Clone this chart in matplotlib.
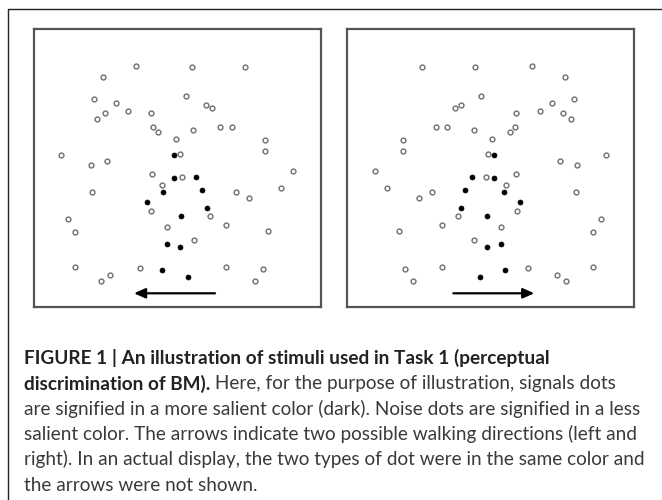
import matplotlib
matplotlib.use("Agg")
import matplotlib.pyplot as plt
from matplotlib import font_manager
from matplotlib.font_manager import FontProperties
from matplotlib.lines import Line2D

W, H = 662, 500

# ---------------- data (image pixel coordinates) ----------------
left_noise_x = [135.7, 192, 245, 103.3, 93.7, 115.7, 104.7, 97, 127.7, 151.3, 186.3, 206.3, 212.3,
                153, 158, 193, 220.3, 231.7, 175.7, 264.7, 264.7, 61.3, 179.7, 90.7, 107.3, 151.7,
                182.3, 293, 162, 92, 235.7, 249, 280.7, 151.3, 210, 67.7, 75, 167, 226, 268.3, 194,
                75, 139.7, 110.3, 101.3, 226, 263.3, 254.7]
left_noise_y = [65.7, 67, 67, 77.3, 99.3, 102.7, 112.7, 119.3, 111, 112.7, 96, 105, 107.7,
                127, 132.3, 130, 127, 126.7, 139.3, 140, 151.3, 155.3, 154, 165, 161.2, 174.3,
                177, 171.3, 185, 192, 192.3, 198, 187.7, 210.7, 216, 219.3, 232.3, 227.3, 225, 230.7, 239.7,
                266.7, 268.3, 274.7, 281.3, 266.7, 269, 281.3]
left_signal_x = [173.7, 173.7, 196, 163.3, 202.3, 147, 207, 181, 166.7, 180.3, 162.3, 188]
left_signal_y = [155, 178, 177, 192.3, 189.7, 202, 208, 215.7, 244, 246.7, 269.7, 277]

right_noise_x = [422.3, 475.3, 531.7, 564.7, 481.3, 455, 461.3, 552, 574.3, 516, 539.7, 563.3, 570.7,
                 435.7, 447, 474.3, 509.7, 514.7, 403, 403, 492, 488.3, 606, 560.3, 577, 374.7,
                 485.7, 516, 506, 387.3, 432, 418.7, 576, 457.7, 516.7, 600.7, 593, 399.3, 442, 500.7,
                 473.7, 404.7, 442, 528, 557.3, 566.3, 413, 593]
right_noise_y = [67, 67, 65.7, 77.3, 96, 107.7, 105, 102.7, 99.3, 112.7, 111, 112.7, 119.3,
                 126.7, 127, 130, 132.3, 127, 140, 151.3, 139.3, 154, 155.3, 161.2, 164.8, 171.3,
                 177, 174.3, 185, 187.7, 192.3, 198, 192, 216, 210.7, 219.3, 232.3, 230.7, 225, 227.3,
                 239.7, 269, 266.7, 268.3, 274.7, 281.3, 281.3, 266.7]
right_signal_x = [494, 472, 494, 465, 504.3, 520.3, 460.7, 487, 487, 501, 505.3, 479.7]
right_signal_y = [155, 177, 178, 189.7, 192.3, 202, 208, 215.7, 246.7, 244, 269.7, 277]

# arrows: (x_start, x_end, y)
left_arrow = (215, 134, 293.3)
right_arrow = (453.3, 534.3, 293.3)

caption_bold_1 = "FIGURE 1 | An illustration of stimuli used in Task 1 (perceptual"
caption_bold_2 = "discrimination of BM)."
caption_rest_2 = " Here, for the purpose of illustration, signals dots"
caption_lines = [
    "are signified in a more salient color (dark). Noise dots are signified in a less",
    "salient color. The arrows indicate two possible walking directions (left and",
    "right). In an actual display, the two types of dot were in the same color and",
    "the arrows were not shown.",
]

# ---------------- figure ----------------
fig = plt.figure(figsize=(W / 100, H / 100), dpi=100)
fig.patch.set_facecolor("white")

# outer frame (top and left edges visible)
fig.add_artist(Line2D([8 / W, 8 / W, 1.0], [0.0, 1 - 9.3 / H, 1 - 9.3 / H],
                      transform=fig.transFigure, color="#222222", lw=1.0))

panels = [
    (34, 321, left_noise_x, left_noise_y, left_signal_x, left_signal_y, left_arrow),
    (347, 633.5, right_noise_x, right_noise_y, right_signal_x, right_signal_y, right_arrow),
]
top, bottom = 29.5, 306.5
for x0, x1, nx, ny, sx, sy, arr in panels:
    ax = fig.add_axes([x0 / W, 1 - bottom / H, (x1 - x0) / W, (bottom - top) / H])
    ax.set_xlim(x0, x1)
    ax.set_ylim(bottom, top)
    ax.set_xticks([])
    ax.set_yticks([])
    for s in ax.spines.values():
        s.set_color("#555555")
        s.set_linewidth(1.6)
    ax.plot(nx, ny, linestyle="none", marker="o", markersize=3.5, mfc="white",
            mec="#6e6e6e", mew=1.0)
    ax.plot(sx, sy, linestyle="none", marker="o", markersize=3.6, mfc="black",
            mec="black", mew=0.5)
    ax.annotate("", xy=(arr[1], arr[2]), xytext=(arr[0], arr[2]),
                arrowprops=dict(arrowstyle="-|>,head_length=0.45,head_width=0.2",
                                color="black", lw=1.6, shrinkA=0, shrinkB=0,
                                mutation_scale=15))

# ---------------- caption font choice (prefer a narrow sans) ----------------
renderer = fig.canvas.get_renderer()
cands = []
for f in font_manager.fontManager.ttflist:
    st = f.stretch
    stv = font_manager.stretch_dict.get(st, 500) if isinstance(st, str) else st
    if f.style == "normal" and ("Mono" not in f.name) and (
            stv < 500 or "Narrow" in f.name or "Condensed" in f.name):
        if (f.name, st) not in cands:
            cands.append((f.name, st))
for nm in ["Roboto", "Lato", "Liberation Sans"]:
    cands.append((nm, "normal"))

target = 617.0 / 19.1  # line width in em units
best = None
for nm, st in cands:
    try:
        fp = FontProperties(family=nm, stretch=st, size=10)
        font_manager.findfont(fp, fallback_to_default=False)
        t = fig.text(0, 0, caption_lines[0], fontproperties=fp)
        w = t.get_window_extent(renderer).width
        t.remove()
    except Exception:
        continue
    wpe = w / (10 * 100 / 72)
    score = abs(wpe - target)
    if best is None or score < best[0]:
        best = (score, nm, st, w)

_, fam, stretch, wref = best
fsize = 10 * 617.0 / wref

def fprops(weight="normal"):
    return FontProperties(family=fam, stretch=stretch, weight=weight, size=fsize)

xl = 24 / W
baselines = [364.3, 389.5, 414.8, 440.0, 465.3, 490.6]
tcol = "#3a3a3a"
fig.text(xl, 1 - baselines[0] / H, caption_bold_1, fontproperties=fprops("bold"),
         color="#222222", va="baseline")
tb = fig.text(xl, 1 - baselines[1] / H, caption_bold_2, fontproperties=fprops("bold"),
              color="#222222", va="baseline")
bb = tb.get_window_extent(renderer)
fig.text(bb.x1 / W, 1 - baselines[1] / H, caption_rest_2, fontproperties=fprops(),
         color=tcol, va="baseline")
for line, b in zip(caption_lines, baselines[2:]):
    fig.text(xl, 1 - b / H, line, fontproperties=fprops(), color=tcol, va="baseline")

fig.savefig("out.png", dpi=100, facecolor="white")
